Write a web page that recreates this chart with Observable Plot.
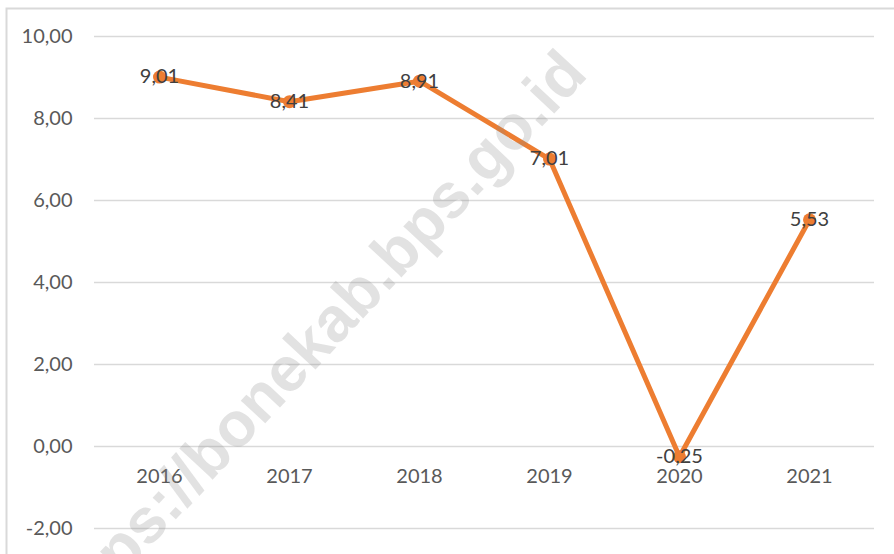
<!DOCTYPE html>
<html>
<head>
<meta charset="utf-8">
<script src="https://cdn.jsdelivr.net/npm/d3@7"></script>
<script src="https://cdn.jsdelivr.net/npm/@observablehq/plot@0.6"></script>
<style>
  html, body { margin: 0; padding: 0; background: #fff; }
  #chart { width: 894px; height: 554px; overflow: hidden; }
</style>
</head>
<body>
<div id="chart"></div>
<script>
const years = ["2016", "2017", "2018", "2019", "2020", "2021"];
const values = [9.01, 8.41, 8.91, 7.01, -0.25, 5.53];
const yTicks = [-2, 0, 2, 4, 6, 8, 10];
const watermark = "https://bonekab.bps.go.id";

const data = years.map((y, i) => ({year: y, value: values[i]}));
const fmt = d => d.toFixed(2).replace(".", ",");
const font = "Lato, 'Open Sans', sans-serif";

const plot = Plot.plot({
  width: 894,
  height: 554,
  marginLeft: 94,
  marginRight: 20,
  marginTop: 36,
  marginBottom: 26,
  style: {fontFamily: font, fontSize: "20px", background: "#fff"},
  x: {type: "point", domain: years, padding: 0.5, axis: null},
  y: {domain: [-2, 10], ticks: yTicks, tickFormat: fmt, label: null},
  marks: [
    Plot.gridY(yTicks, {stroke: "#d9d9d9", strokeOpacity: 1, strokeWidth: 1.5}),
    Plot.axisY(yTicks, {tickSize: 0, tickPadding: 22, tickFormat: fmt, fill: "#595959", fontSize: 20, label: null}),
    Plot.text(data, {x: "year", y: () => 0, text: "year", dy: 30, fill: "#595959", fontSize: 20}),
    Plot.line(data, {x: "year", y: "value", stroke: "#ED7D31", strokeWidth: 5, strokeLinejoin: "round"}),
    Plot.dot(data, {x: "year", y: "value", r: 6.5, fill: "#ED7D31", stroke: "none"}),
    Plot.text(data, {x: "year", y: "value", text: d => fmt(d.value), fill: "#404040", fontSize: 20})
  ]
});

const svg = d3.select(plot);
svg.append("rect")
  .attr("x", 6.5).attr("y", 8.5).attr("width", 1000).attr("height", 1000)
  .attr("fill", "none").attr("stroke", "#d9d9d9").attr("stroke-width", 2);
svg.append("text")
  .attr("transform", "translate(328,356) rotate(-47)")
  .attr("text-anchor", "middle")
  .attr("font-family", "'Liberation Sans', Arial, sans-serif")
  .attr("font-weight", "bold")
  .attr("font-size", 63)
  .attr("fill", "#8c8c8c")
  .attr("fill-opacity", 0.25)
  .text(watermark);

document.getElementById("chart").appendChild(plot);
</script>
</body>
</html>
